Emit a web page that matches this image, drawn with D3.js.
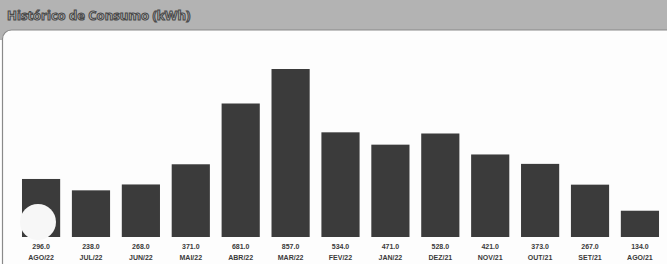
<!DOCTYPE html>
<meta charset="utf-8">
<head>
    <title>Histórico de Consumo</title>
</head>
<style>
body { margin: 0; background: #fff; }
.vlabel, .mlabel {
    font-family: 'Liberation Sans', Arial, sans-serif;
    font-size: 7px;
    font-weight: bold;
    fill: #3a3a3a;
}
.title {
    font-family: 'Open Sans', sans-serif;
    font-size: 13px;
    font-weight: bold;
    fill: #c8c8c8;
    stroke: #4a4a4a;
    stroke-width: 1.1px;
}
</style>
<body>
<svg width="667" height="264"></svg>
<script src="https://d3js.org/d3.v7.min.js"></script>
<script>

const months = ['AGO/22', 'JUL/22', 'JUN/22', 'MAI/22', 'ABR/22', 'MAR/22', 'FEV/22',
    'JAN/22', 'DEZ/21', 'NOV/21', 'OUT/21', 'SET/21', 'AGO/21'];
const consumo = [296, 238, 268, 371, 681, 857, 534, 471, 528, 421, 373, 267, 134];

const svg = d3.select('svg'),
    width = +svg.attr('width'),
    height = +svg.attr('height');

// header band
svg.append('rect')
    .attr('x', 0).attr('y', 0)
    .attr('width', width).attr('height', 40)
    .attr('fill', '#b3b3b3');

// white panel with rounded corner
svg.append('rect')
    .attr('x', 2.5).attr('y', 30)
    .attr('width', width + 20).attr('height', height)
    .attr('rx', 9)
    .attr('fill', '#fdfdfd')
    .attr('stroke', '#8a8a8a')
    .attr('stroke-width', 1.2);

svg.append('text')
    .attr('class', 'title')
    .attr('x', 7)
    .attr('y', 20)
    .text('Histórico de Consumo (kWh)');

const x = d3.scaleBand()
    .domain(months)
    .range([16, 665])
    .paddingInner(0.235)
    .paddingOuter(0.12);

const y = d3.scaleLinear()
    .domain([0, d3.max(consumo)])
    .range([237, 69]);

svg.append('g')
    .selectAll('rect')
    .data(months)
    .enter()
    .append('rect')
    .attr('x', d => x(d))
    .attr('y', (d, i) => y(consumo[i]))
    .attr('width', x.bandwidth())
    .attr('height', (d, i) => y(0) - y(consumo[i]))
    .attr('fill', '#3b3b3b');

// scan blemish over first bar
svg.append('circle')
    .attr('cx', x(months[0]) + 16)
    .attr('cy', 222)
    .attr('r', 18)
    .attr('fill', '#f7f7f7');

svg.append('g')
    .selectAll('text')
    .data(months)
    .enter()
    .append('text')
    .attr('class', 'vlabel')
    .attr('x', d => x(d) + x.bandwidth() / 2)
    .attr('y', 249)
    .attr('text-anchor', 'middle')
    .text((d, i) => consumo[i].toFixed(1));

svg.append('g')
    .selectAll('text')
    .data(months)
    .enter()
    .append('text')
    .attr('class', 'mlabel')
    .attr('x', d => x(d) + x.bandwidth() / 2)
    .attr('y', 260)
    .attr('text-anchor', 'middle')
    .text(d => d);

</script>
</body>
